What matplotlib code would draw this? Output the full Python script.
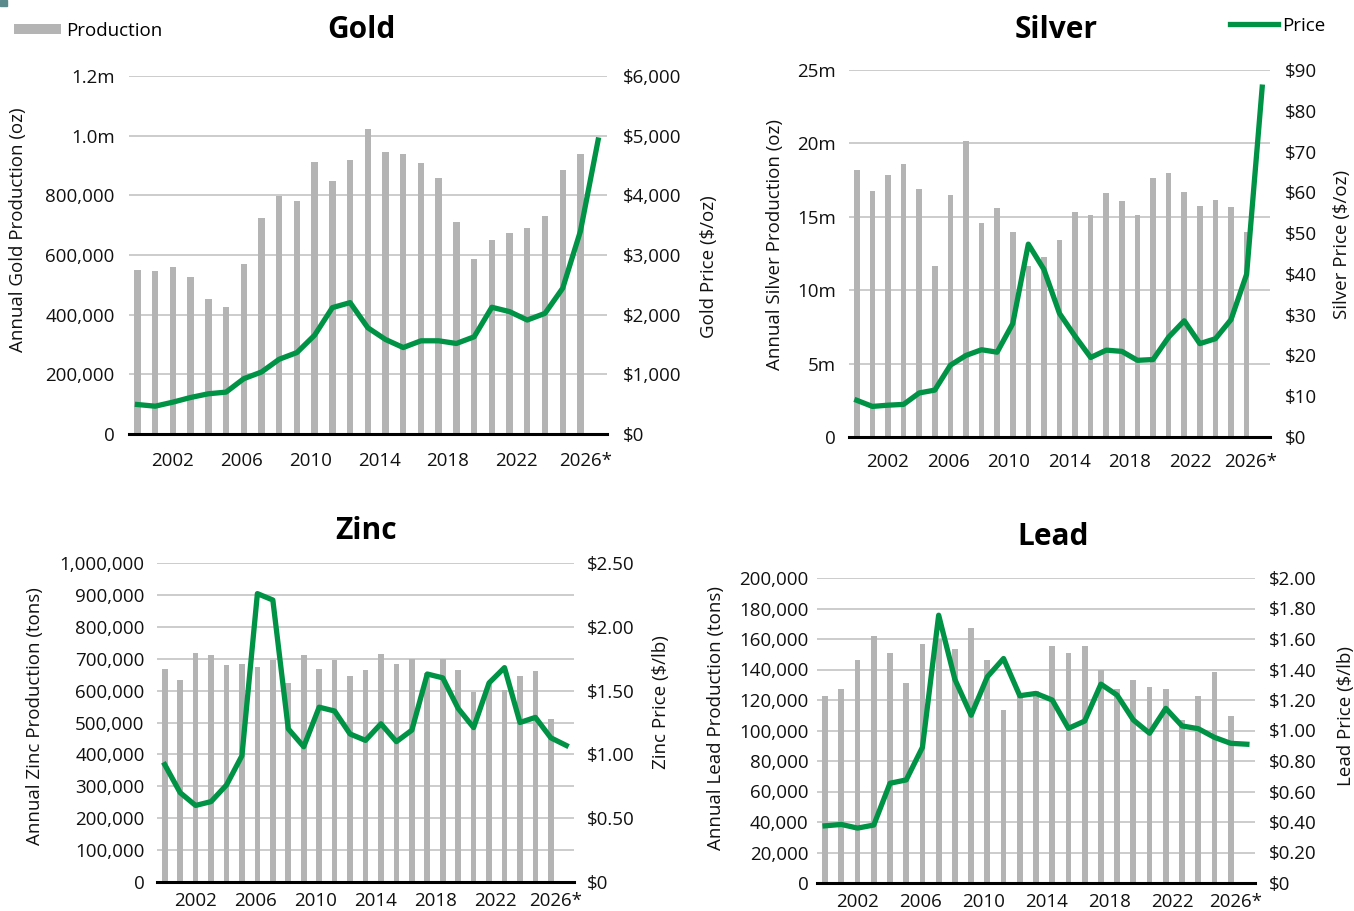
import matplotlib.pyplot as plt
import numpy as np
from matplotlib.patches import Rectangle

plt.rcParams['font.family'] = ['Open Sans', 'DejaVu Sans']

# years: bars stop at 2025, price line runs to the 2026 estimate
years_prod = np.arange(2000, 2026)
years_price = np.arange(2000, 2027)
tick_years = np.arange(2002, 2027, 4)
tick_labels = ['2002', '2006', '2010', '2014', '2018', '2022', '2026*']

gold_prod = [550000, 548000, 560000, 526000, 454000, 425000, 569000, 725000, 799000, 780000,
             913000, 847000, 920000, 1021000, 946000, 940000, 909000, 858000, 710000, 586000,
             649000, 673000, 690000, 731000, 885000, 939000]
gold_price = [494, 466, 534, 612, 674, 702, 927, 1039, 1253, 1365, 1657, 2118, 2202, 1781,
              1584, 1449, 1562, 1562, 1517, 1629, 2124, 2051, 1910, 2022, 2444, 3399, 4927]

silver_prod = [18.18e6, 16.75e6, 17.84e6, 18.57e6, 16.91e6, 11.64e6, 16.48e6, 20.16e6, 14.61e6,
               15.57e6, 13.95e6, 11.64e6, 12.25e6, 13.41e6, 15.34e6, 15.11e6, 16.59e6, 16.05e6,
               15.09e6, 17.64e6, 17.98e6, 16.68e6, 15.73e6, 16.16e6, 15.66e6, 13.95e6]
silver_price = [9.0, 7.5, 7.8, 8.0, 10.8, 11.5, 17.6, 20.0, 21.4, 20.8, 27.8, 47.3, 41.1, 30.3,
                24.7, 19.5, 21.3, 21.0, 18.8, 19.0, 24.5, 28.5, 22.9, 24.1, 28.8, 39.9, 85.8]

zinc_prod = [668000, 634000, 717000, 713000, 679000, 683000, 673000, 695000, 625000, 712000,
             667000, 695000, 647000, 664000, 715000, 684000, 700000, 655000, 698000, 665000,
             595000, 620000, 603000, 645000, 663000, 512000]
zinc_price = [0.92, 0.70, 0.60, 0.63, 0.76, 0.99, 2.26, 2.21, 1.20, 1.06, 1.37, 1.34, 1.16, 1.11,
              1.24, 1.10, 1.19, 1.63, 1.60, 1.36, 1.21, 1.56, 1.68, 1.25, 1.29, 1.13, 1.07]

lead_prod = [122800, 126900, 146100, 162000, 150500, 131100, 157000, 160000, 153500, 167100,
             146100, 113400, 124500, 126000, 155300, 151100, 155300, 140000, 126900, 133000,
             128700, 126900, 106900, 122400, 138300, 109300]
lead_price = [0.375, 0.384, 0.36, 0.38, 0.654, 0.676, 0.89, 1.756, 1.335, 1.10, 1.352, 1.472,
              1.228, 1.243, 1.20, 1.014, 1.062, 1.304, 1.232, 1.069, 0.982, 1.145, 1.03, 1.012,
              0.955, 0.916, 0.91]

GRAY = '#b4b4b4'
GREEN = '#009245'
GRID = '#c4c4c4'
TXT = '#111111'
FS = 13.5

W, H = 1354, 911
fig = plt.figure(figsize=(W / 100, H / 100), dpi=100)


def px(x, y):
    return x / W, 1 - y / H


def panel(box, prod, price, prod_max, prod_ticks, prod_lbls, price_max, price_ticks, price_lbls,
          pads):
    l, t, r, b = box
    ax = fig.add_axes([l / W, 1 - b / H, (r - l) / W, (b - t) / H])
    bars = ax.bar(years_prod, prod, width=0.36, color=GRAY, zorder=2)
    ax.set_xlim(1999.5, 2026.5)
    ax.set_ylim(0, prod_max)
    ax.set_yticks(prod_ticks)
    ax.set_yticklabels(prod_lbls)
    # labels sit a touch left of the bars towards the right end
    ax.set_xticks(tick_years[0] + (tick_years - tick_years[0]) * 0.97)
    ax.set_xticklabels(tick_labels)
    ax.yaxis.grid(True, color=GRID, lw=1.2)
    ax.set_axisbelow(True)
    for s in ['top', 'left', 'right']:
        ax.spines[s].set_visible(False)
    ax.spines['bottom'].set_color('black')
    ax.spines['bottom'].set_linewidth(2.2)
    ax.spines['bottom'].set_zorder(3)
    ax.tick_params(axis='y', length=0, labelsize=FS, pad=pads[0], labelcolor=TXT)
    ax.tick_params(axis='x', length=0, labelsize=FS, pad=pads[2], labelcolor=TXT)

    ax2 = ax.twinx()
    line, = ax2.plot(years_price, price, color=GREEN, lw=3.8, zorder=4)
    ax2.set_ylim(0, price_max)
    ax2.set_yticks(price_ticks)
    ax2.set_yticklabels(price_lbls)
    for s in ax2.spines.values():
        s.set_visible(False)
    ax2.tick_params(axis='y', length=0, labelsize=FS, pad=pads[1], labelcolor=TXT)
    return bars, line


def vlabel(x, y, s):
    fig.text(*px(x, y), s, rotation=90, ha='center', va='center', fontsize=FS, color=TXT)


def title(x, y, s):
    fig.text(*px(x, y), s, ha='center', va='baseline', fontsize=21.5, fontweight='bold',
             color='black')


# Gold
gold_bars, gold_line = panel(
    (128.6, 76, 607, 434), gold_prod, gold_price,
    1.2e6, np.arange(0, 1.2e6 + 1, 2e5),
    ['0', '200,000', '400,000', '600,000', '800,000', '1.0m', '1.2m'],
    6000, np.arange(0, 6001, 1000),
    ['$0', '$1,000', '$2,000', '$3,000', '$4,000', '$5,000', '$6,000'],
    (10, 11.5, 13))
title(361, 38, 'Gold')
vlabel(18, 230, 'Annual Gold Production (oz)')
vlabel(709, 267, 'Gold Price ($/oz)')

# Silver
silver_bars, silver_line = panel(
    (849, 70, 1270, 437), silver_prod, silver_price,
    25e6, np.arange(0, 25e6 + 1, 5e6),
    ['0', '5m', '10m', '15m', '20m', '25m'],
    90, np.arange(0, 91, 10),
    ['$%d' % v for v in range(0, 91, 10)],
    (9.5, 11, 11.5))
title(1056, 38, 'Silver')
vlabel(775, 244, 'Annual Silver Production (oz)')
vlabel(1342, 244, 'Silver Price ($/oz)')

# Zinc
panel((157, 563, 574, 882), zinc_prod, zinc_price,
      1.0e6, np.arange(0, 1.0e6 + 1, 1e5),
      ['0'] + ['{:,}'.format(v) for v in range(100000, 1000001, 100000)],
      2.5, np.arange(0, 2.51, 0.5),
      ['$0', '$0.50', '$1.00', '$1.50', '$2.00', '$2.50'],
      (9, 9, 7.5))
title(366, 539, 'Zinc')
vlabel(35, 716, 'Annual Zinc Production (tons)')
vlabel(661, 702, 'Zinc Price ($/lb)')

# Lead
panel((817, 578, 1255, 883), lead_prod, lead_price,
      200000, np.arange(0, 200001, 20000),
      ['0'] + ['{:,}'.format(v) for v in range(20000, 200001, 20000)],
      2.0, np.arange(0, 2.01, 0.2),
      ['$0'] + ['$%.2f' % v for v in np.arange(0.2, 2.01, 0.2)],
      (6, 10, 7))
title(1053, 545, 'Lead')
vlabel(716, 718, 'Annual Lead Production (tons)')
vlabel(1346, 716, 'Lead Price ($/lb)')

# shared legends at the top corners
fig.legend([gold_bars], ['Production'], loc='center left', bbox_to_anchor=px(14, 31),
           frameon=False, fontsize=FS, handlelength=2.5, handleheight=0.43,
           handletextpad=0.27, borderpad=0, borderaxespad=0)
fig.legend([silver_line], ['Price'], loc='center left', bbox_to_anchor=px(1230, 26),
           frameon=False, fontsize=FS, handlelength=2.56, handletextpad=0.2,
           borderpad=0, borderaxespad=0)

fig.patches.append(Rectangle((0, 1 - 6 / H), 7 / W, 6 / H, transform=fig.transFigure,
                             color='#5b8a8c', zorder=0))

fig.savefig('out.png', dpi=100)
